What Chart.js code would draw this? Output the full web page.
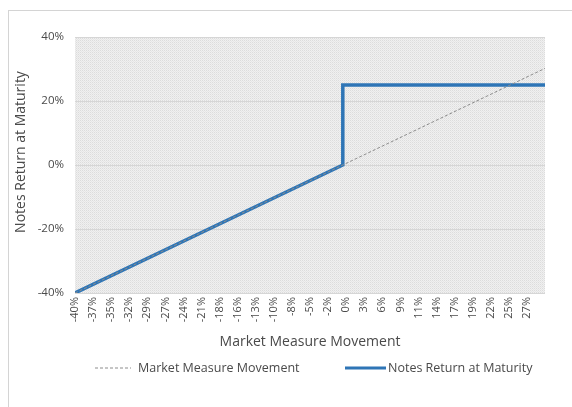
<!DOCTYPE html>
<html>
<head>
<meta charset="utf-8">
<script src="https://cdn.jsdelivr.net/npm/chart.js@4.4.1/dist/chart.umd.min.js"></script>
<style>
  html, body { margin: 0; padding: 0; background: #ffffff; }
  #wrap { position: relative; width: 572px; height: 407px; overflow: hidden; }
  #frame { position: absolute; left: 8px; top: 10px; width: 600px; height: 450px; border: 1px solid #d4d4d4; box-sizing: border-box; }
  canvas { position: absolute; left: 0; top: 0; }
</style>
</head>
<body>
<div id="wrap">
  <div id="frame"></div>
  <canvas id="c" width="572" height="407"></canvas>
</div>
<script>
// ---- data ----
const xTickValues = [-40, -37.3, -34.6, -31.9, -29.2, -26.5, -23.8, -21.1, -18.4, -15.7, -13, -10.3, -7.6, -4.9, -2.2, 0.5, 3.2, 5.9, 8.6, 11.3, 14, 16.7, 19.4, 22.1, 24.8, 27.5];
const xTickLabels = ['-40%', '-37%', '-35%', '-32%', '-29%', '-27%', '-24%', '-21%', '-18%', '-16%', '-13%', '-10%', '-8%', '-5%', '-2%', '0%', '3%', '6%', '9%', '11%', '14%', '17%', '19%', '22%', '25%', '27%'];
const xMin = -40;
const xMax = 30.2;
const marketX = [-40, 30.2];
const marketY = [-40, 30.2];
const notesX = [-40, 0, 0, 30.2];
const notesY = [-40, 0, 25, 25];
const yTicks = [-40, -20, 0, 20, 40];
const seriesNames = ['Market Measure Movement', 'Notes Return at Maturity'];
const xTitle = 'Market Measure Movement';
const yTitle = 'Notes Return at Maturity';

const toPts = (xs, ys) => xs.map((x, i) => ({ x: x, y: ys[i] }));

const FONT = '"Open Sans", "DejaVu Sans", sans-serif';
const TXT = '#4a4a4a';

// dotted plot background
function makePattern(ctx) {
  const t = document.createElement('canvas');
  t.width = 2; t.height = 2;
  const g = t.getContext('2d');
  g.fillStyle = '#f0f0f0'; g.fillRect(0, 0, 2, 2);
  g.fillStyle = '#dcdcdc'; g.fillRect(0, 0, 1, 1);
  g.fillStyle = '#e6e6e6'; g.fillRect(1, 1, 1, 1);
  return ctx.createPattern(t, 'repeat');
}

const plotBg = {
  id: 'plotBg',
  beforeDraw(chart) {
    const { ctx, chartArea: a } = chart;
    ctx.save();
    ctx.fillStyle = makePattern(ctx);
    ctx.fillRect(a.left, a.top, a.right - a.left, a.bottom - a.top);
    ctx.restore();
  }
};

const yTitlePlugin = {
  id: 'yTitlePlugin',
  afterDraw(chart) {
    const ctx = chart.ctx;
    ctx.save();
    ctx.translate(21, 152);
    ctx.rotate(-Math.PI / 2);
    ctx.fillStyle = TXT;
    ctx.font = '14px ' + FONT;
    ctx.textAlign = 'center';
    ctx.textBaseline = 'middle';
    ctx.fillText(yTitle, 0, 0);
    ctx.restore();
  }
};

const customLegend = {
  id: 'customLegend',
  afterDraw(chart) {
    const ctx = chart.ctx;
    const y = 368;
    const items = [
      { x0: 95, x1: 131, tx: 138 },
      { x0: 345, x1: 386, tx: 388 }
    ];
    chart.data.datasets.forEach((ds, i) => {
      const it = items[i];
      ctx.save();
      ctx.strokeStyle = ds.borderColor;
      ctx.lineWidth = i === 0 ? 1 : 3;
      ctx.setLineDash(ds.borderDash || []);
      ctx.beginPath();
      ctx.moveTo(it.x0, y);
      ctx.lineTo(it.x1, y);
      ctx.stroke();
      ctx.setLineDash([]);
      ctx.fillStyle = TXT;
      ctx.font = '12.5px ' + FONT;
      ctx.textBaseline = 'middle';
      ctx.textAlign = 'left';
      ctx.fillText(ds.label, it.tx, y);
      ctx.restore();
    });
  }
};

new Chart(document.getElementById('c'), {
  type: 'scatter',
  data: {
    datasets: [
      {
        label: seriesNames[0],
        data: toPts(marketX, marketY),
        showLine: true,
        borderColor: '#8c8c8c',
        borderWidth: 1,
        borderDash: [3, 2],
        pointRadius: 0,
        fill: false
      },
      {
        label: seriesNames[1],
        data: toPts(notesX, notesY),
        showLine: true,
        borderColor: '#2e75b6',
        borderWidth: 3.5,
        pointRadius: 0,
        fill: false
      }
    ]
  },
  options: {
    responsive: false,
    animation: false,
    layout: { padding: { left: 12, right: 27, top: 37, bottom: 54 } },
    plugins: {
      legend: { display: false },
      tooltip: { enabled: false }
    },
    scales: {
      x: {
        type: 'linear',
        min: xMin,
        max: xMax,
        afterBuildTicks(scale) {
          scale.ticks = xTickValues.map(v => ({ value: v }));
        },
        afterFit(scale) { scale.height = 60; },
        grid: { display: false, drawTicks: false },
        border: { display: false },
        ticks: {
          autoSkip: false,
          minRotation: 90,
          maxRotation: 90,
          padding: 4,
          color: TXT,
          font: { family: FONT, size: 11 },
          callback: (v, i) => xTickLabels[i]
        },
        title: {
          display: true,
          text: xTitle,
          color: TXT,
          font: { family: FONT, size: 14 },
          padding: { top: 2, bottom: 3 }
        }
      },
      y: {
        min: -40,
        max: 40,
        afterBuildTicks(scale) {
          scale.ticks = yTicks.map(v => ({ value: v }));
        },
        afterFit(scale) { scale.width = 63; },
        grid: { color: '#d6d6d6', drawTicks: false, lineWidth: 1 },
        border: { display: false },
        ticks: {
          padding: 11,
          color: TXT,
          font: { family: FONT, size: 11.5 },
          callback: v => v + '%'
        },
        title: { display: false }
      }
    }
  },
  plugins: [plotBg, yTitlePlugin, customLegend]
});
</script>
</body>
</html>
